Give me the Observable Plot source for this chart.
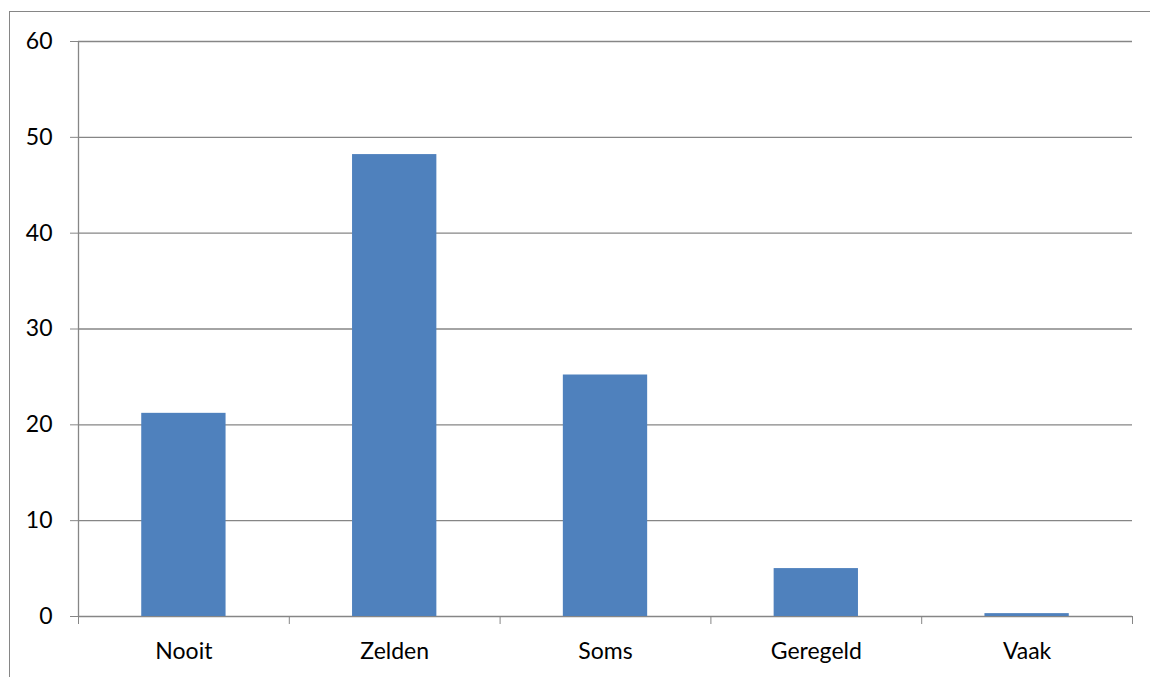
<!DOCTYPE html>
<html>
<head>
<meta charset="utf-8">
<script src="https://cdn.jsdelivr.net/npm/d3@7"></script>
<script src="https://cdn.jsdelivr.net/npm/@observablehq/plot@0.6"></script>
<style>
  html, body { margin: 0; padding: 0; background: #fff; }
  #wrap { position: relative; width: 1150px; height: 677px; overflow: hidden; }
  #frame { position: absolute; left: 9px; top: 11px; right: -2px; bottom: -2px;
           border-left: 1px solid #868686; border-top: 1px solid #868686; pointer-events: none; }
  svg { display: block; }
</style>
</head>
<body>
<div id="wrap"><div id="frame"></div></div>
<script>
const categories = ["Nooit", "Zelden", "Soms", "Geregeld", "Vaak"];
const values = [21.2, 48.2, 25.2, 5.0, 0.3];
const yTicks = [0, 10, 20, 30, 40, 50, 60];

const data = categories.map((c, i) => ({category: c, index: i, value: values[i]}));
const boundaries = d3.range(categories.length + 1);
const centers = categories.map((c, i) => i + 0.5);

const chart = Plot.plot({
  width: 1150,
  height: 677,
  marginLeft: 78,
  marginRight: 18,
  marginTop: 41,
  marginBottom: 61,
  style: {fontFamily: "Lato, 'Open Sans', sans-serif", fontSize: "23px", color: "#000", background: "transparent"},
  x: {domain: [0, categories.length], axis: null, label: null},
  y: {domain: [0, 60], axis: null, label: null},
  marks: [
    Plot.ruleY(yTicks, {stroke: "#868686", strokeWidth: 1.3}),
    Plot.ruleX([0], {stroke: "#868686", strokeWidth: 1.3}),
    Plot.rectY(data, {x1: d => d.index + 0.3, x2: d => d.index + 0.7, y: "value", fill: "#4F81BD"}),
    Plot.axisY({ticks: yTicks, tickSize: 8, tickPadding: 18, stroke: "#868686", fill: "#000", label: null, tickFormat: d => d}),
    Plot.axisX({ticks: boundaries, tickSize: 8, stroke: "#868686", label: null, tickFormat: () => ""}),
    Plot.axisX({ticks: centers, tickSize: 0, tickPadding: 26, fill: "#000", label: null, tickFormat: d => categories[Math.floor(d)]})
  ]
});
document.getElementById("wrap").appendChild(chart);
</script>
</body>
</html>
